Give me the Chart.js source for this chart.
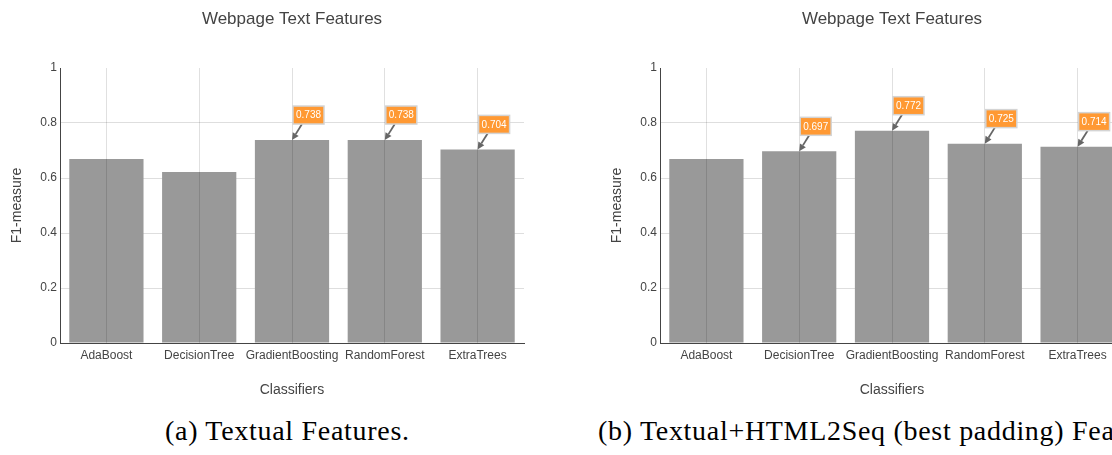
<!DOCTYPE html>
<html>
<head>
<meta charset="utf-8">
<script src="https://cdn.jsdelivr.net/npm/chart.js@4/dist/chart.umd.min.js"></script>
<style>
  html, body { margin: 0; padding: 0; background: #fff; }
  body { width: 1112px; height: 455px; overflow: hidden; position: relative; }
  canvas { position: absolute; top: 0; }
  #chartA { left: 0; }
  #chartB { left: 600px; }
  .caption {
    position: absolute; top: 415px; white-space: nowrap;
    font-family: "Liberation Serif", "DejaVu Serif", serif;
    font-size: 28px; letter-spacing: 0.7px; color: #000;
  }
  #capA { left: 165px; }
  #capB { left: 598px; }
</style>
</head>
<body>
<canvas id="chartA" width="584" height="410"></canvas>
<canvas id="chartB" width="584" height="410"></canvas>
<div class="caption" id="capA">(a) Textual Features.</div>
<div class="caption" id="capB">(b) Textual+HTML2Seq (best padding) Features.</div>
<script>
// Classifier F1 scores for the two feature sets
const categories = ['AdaBoost', 'DecisionTree', 'GradientBoosting', 'RandomForest', 'ExtraTrees'];
const textualF1 = [0.669, 0.622, 0.738, 0.738, 0.704];
const html2seqF1 = [0.669, 0.697, 0.772, 0.725, 0.714];
// which bars carry a value callout
const calloutsA = [2, 3, 4];
const calloutsB = [1, 2, 3, 4];
const yTickValues = [0, 0.2, 0.4, 0.6, 0.8, 1];
const yTickLabels = ['0', '0.2', '0.4', '0.6', '0.8', '1'];

const FONT = '"Liberation Sans", Arial, sans-serif';
const TEXT = '#444';

// Orange value boxes with an arrow pointing at the bar top
const calloutPlugin = {
  id: 'callouts',
  afterDraw(chart, args, opts) {
    const ctx = chart.ctx;
    const meta = chart.getDatasetMeta(0);
    const data = chart.data.datasets[0].data;
    const yScale = chart.scales.y;
    ctx.save();
    (opts.indices || []).forEach(i => {
      const px = meta.data[i].x;
      const py = yScale.getPixelForValue(data[i]);
      // arrow
      const tx = px + 10, ty = py - 16;
      const ang = Math.atan2(py - ty, px - tx);
      const head = 7;
      const bx = px - Math.cos(ang) * head, by = py - Math.sin(ang) * head;
      ctx.strokeStyle = '#666';
      ctx.fillStyle = '#666';
      ctx.lineWidth = 1.8;
      ctx.beginPath();
      ctx.moveTo(tx, ty);
      ctx.lineTo(bx, by);
      ctx.stroke();
      ctx.beginPath();
      ctx.moveTo(px, py);
      ctx.lineTo(bx + Math.cos(ang + Math.PI / 2) * 3.5, by + Math.sin(ang + Math.PI / 2) * 3.5);
      ctx.lineTo(bx + Math.cos(ang - Math.PI / 2) * 3.5, by + Math.sin(ang - Math.PI / 2) * 3.5);
      ctx.closePath();
      ctx.fill();
      // box
      const left = px + 1, top = py - 34, w = 31, h = 18;
      ctx.fillStyle = 'rgb(255,153,51)';
      ctx.fillRect(left, top, w, h);
      ctx.strokeStyle = '#d4d4d4';
      ctx.lineWidth = 1.5;
      ctx.strokeRect(left, top, w, h);
      ctx.fillStyle = '#fff';
      ctx.font = '10px ' + FONT;
      ctx.textAlign = 'center';
      ctx.textBaseline = 'middle';
      ctx.fillText(data[i].toFixed(3), left + w / 2, top + h / 2 + 0.5);
    });
    ctx.restore();
  }
};

function makeChart(id, values, callouts) {
  return new Chart(document.getElementById(id), {
    type: 'bar',
    data: {
      labels: categories,
      datasets: [{
        data: values,
        backgroundColor: '#999999',
        borderWidth: 0,
        barPercentage: 1,
        categoryPercentage: 0.8
      }]
    },
    options: {
      responsive: false,
      animation: false,
      devicePixelRatio: 1,
      layout: { padding: { left: 0, right: 60, top: 0, bottom: 0 } },
      plugins: {
        legend: { display: false },
        tooltip: { enabled: false },
        title: {
          display: true,
          text: 'Webpage Text Features',
          fullSize: false,
          color: TEXT,
          font: { family: FONT, size: 17, weight: 'normal', lineHeight: 1.2 },
          padding: { top: 9.5, bottom: 38.1 }
        },
        callouts: { indices: callouts }
      },
      scales: {
        x: {
          grid: { z: 1, offset: false, color: 'rgba(0,0,0,0.12)', lineWidth: 1, drawTicks: false },
          border: { z: 2, color: '#444', width: 1 },
          ticks: { color: TEXT, font: { family: FONT, size: 12 }, padding: 5, maxRotation: 0, autoSkip: false },
          title: {
            display: true, text: 'Classifiers', color: TEXT,
            font: { family: FONT, size: 14, lineHeight: 1.2 },
            padding: { top: 0, bottom: 11.6 }
          },
          afterFit(scale) { scale.height = 67; }
        },
        y: {
          min: 0, max: 1,
          afterBuildTicks(scale) { scale.ticks = yTickValues.map(v => ({ value: v })); },
          grid: {
            drawTicks: false,
            color: ctx => (ctx.tick && (ctx.tick.value === 1 || ctx.tick.value === 0)) ? 'rgba(0,0,0,0)' : '#dedede'
          },
          border: { z: 2, color: '#444', width: 1 },
          ticks: {
            color: TEXT, font: { family: FONT, size: 12 }, padding: 3,
            callback: (value, index) => yTickLabels[index]
          },
          title: {
            display: true, text: 'F1-measure', color: TEXT,
            font: { family: FONT, size: 14, lineHeight: 1.2 },
            padding: { top: 8.6, bottom: 0 }
          },
          afterFit(scale) { scale.width = 60; }
        }
      }
    },
    plugins: [calloutPlugin]
  });
}

makeChart('chartA', textualF1, calloutsA);
makeChart('chartB', html2seqF1, calloutsB);
</script>
</body>
</html>
